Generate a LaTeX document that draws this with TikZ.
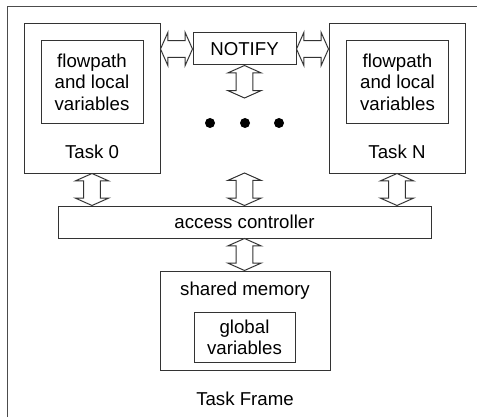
\documentclass[tikz,border=0pt]{standalone}
\usepackage{fontspec}
\setmainfont{Liberation Sans}
\usetikzlibrary{calc}

\begin{document}
\begin{tikzpicture}[x=.75pt, y=-.75pt, font=\fontsize{14}{16}\selectfont,
	box/.style={
		% The shape:
		rectangle,
		% The border
		draw=black!80, line width=.75pt,
		% no padding, sizes are set per box
		inner sep=0pt, align=center},
	dot/.style={circle, fill=black, inner sep=0pt, minimum size=7.5pt},
	% hollow two-headed block arrow between two points
	dblarrow/.style={draw=black!80, line width=.75pt, fill=white, line join=miter,
		to path={
			let \p1=($(\tikztostart)!5.6pt!(\tikztotarget)$),
			    \p2=($(\tikztotarget)!5.6pt!(\tikztostart)$) in
			(\tikztostart)
			-- ($(\p1)!12.6pt!90:(\tikztotarget)$)
			-- ($(\p1)!6.2pt!90:(\tikztotarget)$)
			-- ($(\p2)!6.2pt!-90:(\tikztostart)$)
			-- ($(\p2)!12.6pt!-90:(\tikztostart)$)
			-- (\tikztotarget)
			-- ($(\p2)!12.6pt!90:(\tikztostart)$)
			-- ($(\p2)!6.2pt!90:(\tikztostart)$)
			-- ($(\p1)!6.2pt!-90:(\tikztotarget)$)
			-- ($(\p1)!12.6pt!-90:(\tikztotarget)$)
			-- cycle}}]
    \useasboundingbox (0,0) rectangle (477,417);

    % outer frame, open to the right and bottom
    \draw [draw=black!70, line width=.75pt] (7,417) |- (477,7);

    % the two tasks
    \node [box, minimum width=102pt, minimum height=111.75pt] (t0) at (92,98.5) {};
    \node [box, minimum width=76.5pt, minimum height=61.5pt] (flow0) at (92,82) {flowpath\\and local\\variables};
    \node (t0lbl) at (92,152) {Task 0};

    \node [box, minimum width=102pt, minimum height=111.75pt] (tN) at (397,98.5) {};
    \node [box, minimum width=77pt, minimum height=61.5pt] (flowN) at (397.5,82) {flowpath\\and local\\variables};
    \node (tNlbl) at (397,152) {Task N};

    \node [box, minimum width=77.25pt, minimum height=24pt] (notify) at (244.5,49) {NOTIFY};

    \foreach \x [count=\i] in {210,245,279}{
      \node [dot] (dot\i) at (\x,123) {};
    }

    \node [box, minimum width=279.75pt, minimum height=24pt] (ac) at (244.5,222) {access controller};

    \node [box, minimum width=127.5pt, minimum height=74.25pt] (sm) at (245,320.5) {};
    \node (smlbl) at (245,291) {shared memory};
    \node [box, minimum width=75.75pt, minimum height=37.5pt] (gv) at (244.5,337) {global\\variables};

    \node (frame) at (245,399) {Task Frame};

    \coordinate (nb) at (244.5,98);
    \coordinate (mid) at (244.5,173);

    \draw [dblarrow] (t0.east |- notify) to (notify.west);
    \draw [dblarrow] (notify.east) to (tN.west |- notify);
    \draw [dblarrow] (notify.south) to (nb);
    \draw [dblarrow] (t0.south) to (t0.south |- ac.north);
    \draw [dblarrow] (mid) to (mid |- ac.north);
    \draw [dblarrow] (tN.south) to (tN.south |- ac.north);
    \draw [dblarrow] (ac.south) to (ac.south |- sm.north);

    \end{tikzpicture}
\end{document}
